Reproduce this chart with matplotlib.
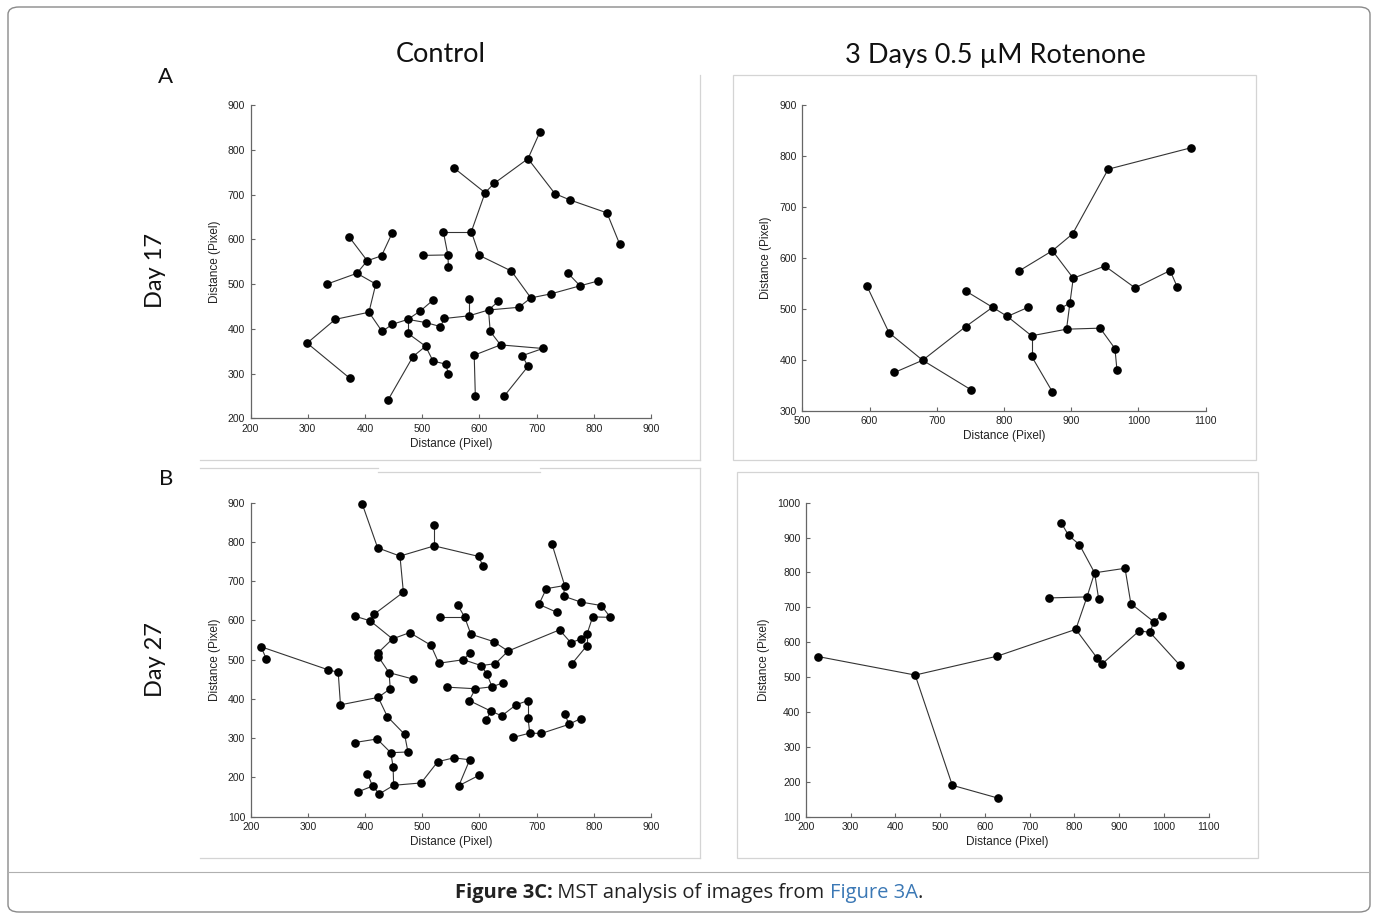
import matplotlib
matplotlib.use('Agg')
import matplotlib.pyplot as plt
from matplotlib.patches import FancyBboxPatch, Rectangle
from matplotlib.lines import Line2D

W, H = 1378, 918

# ---- Day 17, control ----
c17_x = [556, 372, 448, 404, 429, 386, 334, 419, 407, 348, 299, 374, 430, 448, 475, 475,
         497, 519, 506, 532, 539, 506, 484, 519, 541, 546, 440, 502, 537, 545, 546, 706,
         685, 626, 610, 732, 758, 823, 845, 586, 600, 656, 690, 725, 755, 776, 808, 669,
         616, 633, 582, 582, 619, 637, 711, 675, 685, 643, 591, 593]
c17_y = [759, 606, 615, 552, 563, 524, 500, 500, 437, 421, 368, 289, 394, 410, 421, 390,
         440, 464, 414, 405, 423, 361, 338, 328, 321, 300, 240, 564, 617, 565, 537, 840,
         780, 725, 704, 702, 688, 659, 590, 617, 564, 529, 469, 478, 524, 496, 507, 448,
         442, 461, 429, 467, 394, 364, 356, 340, 316, 249, 341, 249]
c17_edges = [(0, 34), (1, 3), (2, 4), (4, 3), (3, 5), (5, 6), (5, 7), (7, 8), (8, 9), (9, 10),
             (10, 11), (8, 12), (12, 13), (13, 14), (14, 16), (16, 17), (14, 18), (18, 19),
             (19, 20), (20, 50), (14, 15), (15, 21), (21, 22), (22, 26), (21, 23), (23, 24),
             (24, 25), (27, 29), (28, 29), (29, 30), (28, 39), (31, 32), (32, 33), (33, 34),
             (34, 39), (32, 35), (35, 36), (36, 37), (37, 38), (39, 40), (40, 41), (41, 42),
             (42, 43), (43, 45), (45, 44), (45, 46), (42, 47), (47, 48), (48, 49), (50, 48),
             (50, 51), (48, 52), (52, 53), (53, 54), (54, 55), (55, 56), (56, 57), (53, 58),
             (58, 59)]

# ---- Day 17, rotenone ----
r17_x = [596, 629, 679, 637, 751, 743, 783, 743, 1078, 955, 902, 872, 822, 903, 950, 995,
         1047, 1058, 898, 884, 893, 943, 965, 968, 841, 841, 872, 805, 836]
r17_y = [545, 453, 399, 375, 341, 465, 503, 535, 816, 774, 647, 614, 574, 560, 584, 541,
         575, 542, 511, 501, 460, 462, 422, 380, 447, 407, 337, 485, 503]
r17_edges = [(0, 1), (1, 2), (3, 2), (2, 4), (2, 5), (5, 6), (7, 6), (6, 27), (8, 9), (9, 10),
             (10, 11), (11, 12), (11, 13), (13, 14), (14, 15), (15, 16), (16, 17), (13, 18),
             (18, 19), (18, 20), (20, 21), (21, 22), (22, 23), (20, 24), (24, 25), (25, 26),
             (24, 27), (27, 28)]

# ---- Day 27, control ----
c27_x = [395, 422, 461, 521, 521, 467, 416, 382, 409, 448, 478, 515, 529, 423, 423, 442,
         483, 444, 423, 357, 353, 336, 218, 227, 439, 469, 475, 445, 421, 382, 449, 450,
         498, 527, 555, 425, 413, 404, 387, 599, 606, 727, 749, 717, 704, 735, 747, 777,
         813, 829, 798, 788, 777, 788, 762, 760, 740, 650, 625, 585, 562, 574, 531, 583,
         572, 603, 628, 613, 622, 641, 593, 544, 582, 620, 612, 639, 664, 685, 685, 688,
         659, 708, 756, 750, 777, 583, 600, 564]
c27_y = [897, 785, 764, 843, 790, 672, 616, 611, 599, 553, 569, 537, 491, 518, 508, 467,
         451, 426, 404, 385, 468, 474, 533, 503, 355, 310, 265, 263, 298, 289, 227, 180,
         186, 240, 250, 158, 178, 210, 163, 763, 738, 794, 689, 681, 641, 621, 662, 647,
         638, 608, 609, 565, 553, 536, 490, 543, 576, 522, 546, 565, 639, 609, 609, 517,
         500, 485, 490, 464, 431, 441, 426, 430, 396, 369, 347, 357, 385, 396, 351, 313,
         302, 312, 335, 362, 350, 245, 206, 179]
c27_edges = [(0, 1), (1, 2), (2, 4), (3, 4), (4, 39), (39, 40), (2, 5), (5, 6), (6, 8), (7, 8),
             (8, 9), (9, 10), (10, 11), (11, 12), (12, 64), (9, 13), (13, 14), (14, 15),
             (15, 16), (15, 17), (17, 18), (18, 19), (19, 20), (20, 21), (21, 22), (22, 23),
             (18, 24), (24, 25), (25, 26), (26, 27), (28, 27), (29, 28), (27, 30), (30, 31),
             (31, 35), (35, 36), (36, 37), (36, 38), (31, 32), (32, 33), (33, 34), (34, 85),
             (85, 87), (87, 86), (62, 61), (60, 61), (61, 59), (59, 58), (58, 57), (57, 56),
             (56, 55), (55, 52), (52, 51), (51, 50), (50, 49), (49, 48), (48, 47), (47, 46),
             (46, 42), (42, 41), (42, 43), (43, 44), (44, 45), (51, 53), (53, 54), (64, 63),
             (64, 65), (65, 66), (66, 57), (65, 67), (67, 68), (68, 69), (68, 70), (70, 71),
             (70, 72), (72, 73), (73, 74), (73, 75), (75, 76), (76, 77), (77, 78), (78, 79),
             (79, 80), (79, 81), (81, 82), (82, 83), (82, 84)]

# ---- Day 27, rotenone ----
r27_x = [227, 444, 627, 527, 630, 771, 787, 811, 845, 913, 828, 854, 742, 926, 977, 995,
         945, 969, 1035, 803, 851, 862]
r27_y = [559, 506, 560, 190, 153, 941, 906, 880, 799, 812, 730, 725, 727, 711, 659, 676,
         633, 628, 535, 637, 554, 538]
r27_edges = [(0, 1), (1, 2), (1, 3), (3, 4), (2, 19), (5, 6), (6, 7), (7, 8), (8, 9), (9, 13),
             (13, 14), (14, 15), (14, 17), (17, 18), (16, 17), (16, 21), (21, 20), (20, 19),
             (19, 10), (10, 8), (8, 11), (10, 12)]

col_titles = ['Control', '3 Days 0.5 \u00b5M Rotenone']
row_titles = ['Day 17', 'Day 27']
axis_label = 'Distance (Pixel)'

fig = plt.figure(figsize=(W / 100, H / 100), dpi=100)


def fx(x):
    return x / W


def fy(y):
    return 1 - y / H


def px_axes(x0, x1, ytop, ybot):
    return fig.add_axes([fx(x0), fy(ybot), (x1 - x0) / W, (ybot - ytop) / H])


def draw_panel(ax, xs, ys, edges, xlim, ylim, xticks, yticks):
    for i, j in edges:
        ax.plot([xs[i], xs[j]], [ys[i], ys[j]], color='#333333', lw=0.8, zorder=1)
    ax.plot(xs, ys, 'o', color='black', ms=5.2, zorder=2, clip_on=False)
    ax.set_xlim(*xlim)
    ax.set_ylim(*ylim)
    ax.set_xticks(xticks)
    ax.set_yticks(yticks)
    for s in ['top', 'right']:
        ax.spines[s].set_visible(False)
    for s in ['left', 'bottom']:
        ax.spines[s].set_color('#666666')
        ax.spines[s].set_linewidth(0.9)
    ax.tick_params(direction='in', length=3, width=0.8, color='#666666',
                   labelsize=7.5, labelcolor='#222222', pad=4)
    for lab in ax.get_xticklabels() + ax.get_yticklabels():
        lab.set_family('Liberation Sans')
    ax.set_xlabel(axis_label, fontsize=8.5, family='Liberation Sans', color='#222222', labelpad=3)
    ax.set_ylabel(axis_label, fontsize=8.5, family='Liberation Sans', color='#222222', labelpad=5)
    ax.patch.set_alpha(0)


ax1 = px_axes(250.5, 651, 105, 418.3)
draw_panel(ax1, c17_x, c17_y, c17_edges, (200, 900), (200, 900),
           range(200, 901, 100), range(200, 901, 100))
ax2 = px_axes(802.3, 1205.7, 105, 410.7)
draw_panel(ax2, r17_x, r17_y, r17_edges, (500, 1100), (300, 900),
           range(500, 1101, 100), range(300, 901, 100))
ax3 = px_axes(250.7, 651, 502.7, 816.7)
draw_panel(ax3, c27_x, c27_y, c27_edges, (200, 900), (100, 900),
           range(200, 901, 100), range(100, 901, 100))
ax4 = px_axes(806, 1208.7, 502.7, 816.7)
draw_panel(ax4, r27_x, r27_y, r27_edges, (200, 1100), (100, 1000),
           range(200, 1101, 100), range(100, 1001, 100))

# panel frames (light grey image borders)
frame_kw = dict(transform=fig.transFigure, color='#d4d4d4', lw=0.9)
fig.add_artist(Line2D([fx(700), fx(700)], [fy(75), fy(460)], **frame_kw))
fig.add_artist(Line2D([fx(200), fx(700)], [fy(460), fy(460)], **frame_kw))
fig.add_artist(Rectangle((fx(733), fy(460)), (1256 - 733) / W, (460 - 75) / H,
                         fill=False, ec='#d4d4d4', lw=0.9, transform=fig.transFigure))
fig.add_artist(Line2D([fx(200), fx(378)], [fy(468), fy(468)], **frame_kw))
fig.add_artist(Line2D([fx(540), fx(700)], [fy(468), fy(468)], **frame_kw))
fig.add_artist(Line2D([fx(378), fx(540)], [fy(472), fy(472)], **frame_kw))
fig.add_artist(Line2D([fx(700), fx(700)], [fy(468), fy(858)], **frame_kw))
fig.add_artist(Line2D([fx(200), fx(700)], [fy(858), fy(858)], **frame_kw))
fig.add_artist(Rectangle((fx(737), fy(858)), (1258 - 737) / W, (858 - 472) / H,
                         fill=False, ec='#d4d4d4', lw=0.9, transform=fig.transFigure))

# headings
big = dict(family='Lato', color='#111111', ha='center', va='center')
fig.text(fx(441), fy(55), col_titles[0], fontsize=19.5, **big)
fig.text(fx(995), fy(55), col_titles[1], fontsize=19.5, **big)
fig.text(fx(166), fy(77), 'A', fontsize=16, **big)
fig.text(fx(166), fy(479), 'B', fontsize=16, **big)
fig.text(fx(155), fy(271), row_titles[0], fontsize=17, rotation=90, **big)
fig.text(fx(155), fy(660), row_titles[1], fontsize=17, rotation=90, **big)

# outer frame and caption
fig.add_artist(FancyBboxPatch((fx(8), fy(912)), (1370 - 8) / W, (912 - 7) / H,
                              boxstyle='round,pad=0,rounding_size=0.008',
                              fill=False, ec='#8a8a8a', lw=1.0, transform=fig.transFigure))
fig.add_artist(Line2D([fx(8), fx(1370)], [fy(872), fy(872)], transform=fig.transFigure,
                      color='#b0b0b0', lw=0.8))

renderer = fig.canvas.get_renderer()
parts = [('Figure 3C:', 'bold', '#222222'),
         (' MST analysis of images from ', 'normal', '#222222'),
         ('Figure 3A', 'normal', '#3b78b5'),
         ('.', 'normal', '#222222')]
texts = []
for txt, wt, c in parts:
    t = fig.text(0, fy(893), txt, fontsize=14.5, family='Open Sans', weight=wt,
                 color=c, ha='left', va='center')
    texts.append(t)
widths = [t.get_window_extent(renderer).width for t in texts]
x = 689 - sum(widths) / 2
for t, w in zip(texts, widths):
    t.set_x(fx(x))
    x += w

fig.savefig('out.png', dpi=100)
